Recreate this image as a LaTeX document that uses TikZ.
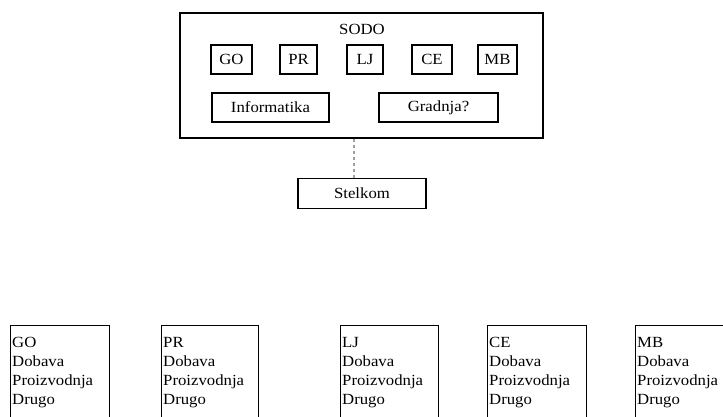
\documentclass[tikz,border=0pt]{standalone}
\usepackage{fontspec}
\setmainfont{Liberation Serif}[FakeStretch=1.08]
\begin{document}
\begin{tikzpicture}[x=1pt,y=-1pt,
  frame/.style={draw=black,line width=1.4pt,rectangle,inner sep=0pt},
  unitbox/.style={draw=black,line width=1.1pt,rectangle,inner sep=0pt,
    minimum height=29pt,font=\fontsize{15.5}{19}\selectfont},
  listbox/.style={draw=black,line width=1.1pt,rectangle,inner sep=0pt,
    anchor=north west,minimum height=130pt},
  listtext/.style={inner sep=0pt,anchor=north west,align=left,
    font=\fontsize{15.5}{19}\selectfont},
  link/.style={draw=gray!75,line width=1.3pt,dash pattern=on 3pt off 3pt}]
\clip (0,0) rectangle (723,416);

% upper group
\node[frame,minimum width=363pt,minimum height=125pt] (sodobox) at (361.5,75.5) {};
\node[inner sep=0pt,font=\fontsize{15.5}{19}\selectfont] (sodo) at (362,29.5) {SODO};
\node[unitbox,minimum width=41pt] (go) at (231.5,59.5) {GO};
\node[unitbox,minimum width=37pt] (pr) at (298.5,59.5) {PR};
\node[unitbox,minimum width=36pt] (lj) at (365,59.5) {LJ};
\node[unitbox,minimum width=40pt] (ce) at (432,59.5) {CE};
\node[unitbox,minimum width=39pt] (mb) at (497.5,59.5) {MB};
\node[unitbox,minimum width=117pt] (info) at (270.5,107.5) {Informatika};
\node[unitbox,minimum width=119pt] (gradnja) at (438.5,107.5) {Gradnja?};

% Stelkom and its dashed link
\node[unitbox,minimum width=128pt,minimum height=30pt] (stelkom) at (362,193.5) {Stelkom};
\coordinate (tap) at (354,0);
\draw[link] (sodobox.south -| tap) -- (stelkom.north -| tap);

% lower row of units
\node[listbox,minimum width=99pt] (goL) at (10,325) {};
\node[listbox,minimum width=97pt] (prL) at (161,325) {};
\node[listbox,minimum width=98pt] (ljL) at (340,325) {};
\node[listbox,minimum width=99pt] (ceL) at (487,325) {};
\node[listbox,minimum width=99pt] (mbL) at (635,325) {};

\node[listtext] (goT) at ([shift={(2,12)}]goL.north west) {GO\\Dobava\\Proizvodnja\\Drugo};
\node[listtext] (prT) at ([shift={(2,12)}]prL.north west) {PR\\Dobava\\Proizvodnja\\Drugo};
\node[listtext] (ljT) at ([shift={(2,12)}]ljL.north west) {LJ\\Dobava\\Proizvodnja\\Drugo};
\node[listtext] (ceT) at ([shift={(2,12)}]ceL.north west) {CE\\Dobava\\Proizvodnja\\Drugo};
\node[listtext] (mbT) at ([shift={(2,12)}]mbL.north west) {MB\\Dobava\\Proizvodnja\\Drugo};
\end{tikzpicture}
\end{document}
